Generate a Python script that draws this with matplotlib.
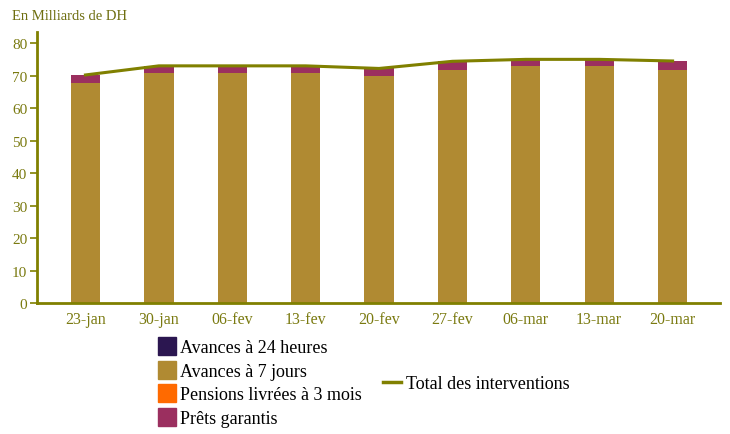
import matplotlib
matplotlib.use("Agg")
import matplotlib.pyplot as plt
import numpy as np
from matplotlib.patches import Patch
from matplotlib.lines import Line2D

plt.rcParams['font.family'] = ['Liberation Serif', 'DejaVu Serif']

dates = ["23-jan", "30-jan", "06-fev", "13-fev", "20-fev", "27-fev", "06-mar", "13-mar", "20-mar"]
avances_24h = [0, 0, 0, 0, 0, 0, 0, 0, 0]
avances_7j = [67.6, 70.8, 70.8, 70.8, 69.8, 71.8, 72.9, 72.9, 71.8]
pensions_3m = [0, 0, 0, 0, 0, 0, 0, 0, 0]
prets_garantis = [2.6, 2.2, 2.2, 2.2, 2.4, 2.6, 2.1, 2.1, 2.7]

olive = "#808000"
c_24h = "#2B1650"
c_7j = "#B08A32"
c_pens = "#FF6A00"
c_prets = "#9B2F5F"

x = np.arange(len(dates))
a24 = np.array(avances_24h)
a7 = np.array(avances_7j)
pens = np.array(pensions_3m)
prets = np.array(prets_garantis)
total = a24 + a7 + pens + prets

fig = plt.figure(figsize=(7.3, 4.35), dpi=100)
ax = fig.add_axes([0.0507, 0.301, 0.935, 0.623])

w = 0.4
ax.bar(x, a24, w, color=c_24h)
ax.bar(x, a7, w, bottom=a24, color=c_7j)
ax.bar(x, pens, w, bottom=a24 + a7, color=c_pens)
ax.bar(x, prets, w, bottom=a24 + a7 + pens, color=c_prets)
ax.plot(x, total, color=olive, linewidth=2.2)

ax.set_xlim(-0.66, 8.64)
ax.set_ylim(0, 83.4)
ax.set_yticks(range(0, 81, 10))
ax.set_xticks(x)
ax.set_xticklabels(dates)

for s in ["top", "right"]:
    ax.spines[s].set_visible(False)
for s in ["left", "bottom"]:
    ax.spines[s].set_color(olive)
    ax.spines[s].set_linewidth(2)
ax.tick_params(axis="y", colors=olive, labelcolor="#7A7A10", length=5, width=1.2, labelsize=11, pad=2)
ax.tick_params(axis="x", length=0, labelcolor="#7A7A10", labelsize=11.5, pad=6)

fig.text(0.017, 0.955, "En Milliards de DH", color="#6E6E10", fontsize=10.5)

handles = [Patch(color=c_24h), Patch(color=c_7j), Patch(color=c_pens), Patch(color=c_prets)]
labels = ["Avances à 24 heures", "Avances à 7 jours", "Pensions livrées à 3 mois", "Prêts garantis"]
fig.legend(handles, labels, loc="upper left", bbox_to_anchor=(0.217, 0.223),
           frameon=False, fontsize=13, handlelength=0.95, handleheight=1.15,
           handletextpad=0.25, labelspacing=0.25, borderpad=0, borderaxespad=0)
fig.legend([Line2D([0], [0], color=olive, linewidth=2.5)], ["Total des interventions"],
           loc="center left", bbox_to_anchor=(0.525, 0.116), frameon=False, fontsize=13,
           handlelength=1.0, handletextpad=0.25, borderpad=0, borderaxespad=0)

fig.savefig("out.png", dpi=100)
